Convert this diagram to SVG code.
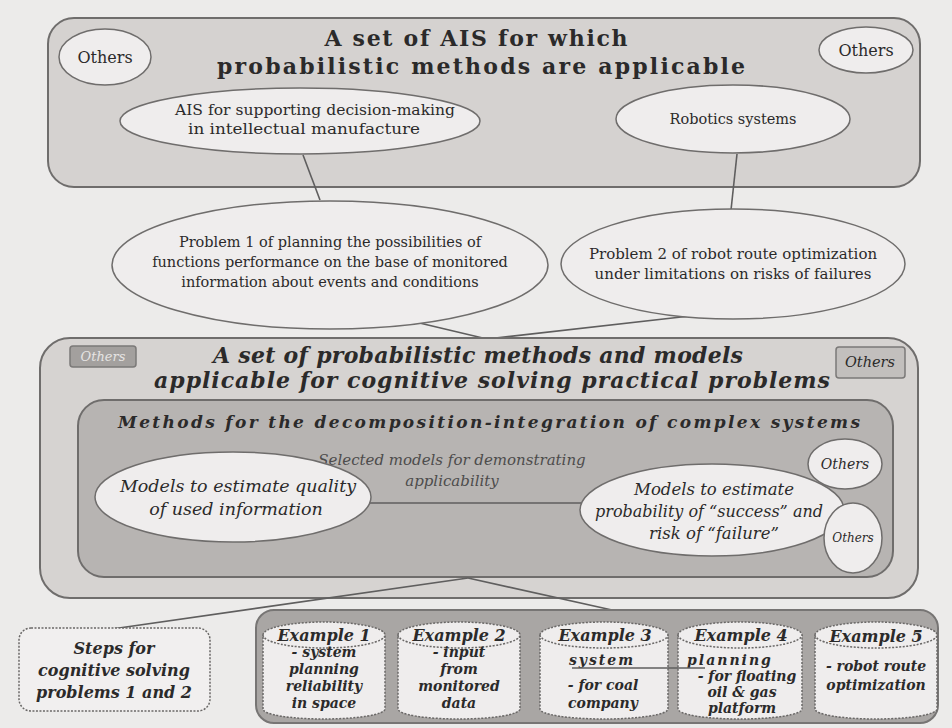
<svg xmlns="http://www.w3.org/2000/svg" width="952" height="728" viewBox="0 0 952 728">
<style>
.t{font-family:"DejaVu Serif","Liberation Serif",serif;fill:#2b2a2a}
.b{font-weight:bold}
.i{font-style:italic}
.c{text-anchor:middle}
.ell{fill:#efeded;stroke:#6f6d6c;stroke-width:1.5}
.box{stroke:#6f6d6c;stroke-width:2}
.con{stroke:#5f5e5e;stroke-width:1.6;fill:none}
.cyl{fill:#efeded;stroke:#6a6867;stroke-width:1.5;stroke-dasharray:2 1.5}
.ex{font-size:16px;font-weight:bold;font-style:italic}
.eb{font-size:14px;font-weight:bold;font-style:italic}
</style>
<rect x="0" y="0" width="952" height="728" fill="#ecebea"/>
<g id="top-set">
<rect class="box" x="48" y="18" width="872" height="169" rx="26" fill="#d5d2d0"/>
<text class="t b c" x="476" y="46" font-size="22" textLength="303" lengthAdjust="spacing">A set of AIS for which</text>
<text class="t b c" x="481" y="74" font-size="22" textLength="528" lengthAdjust="spacing">probabilistic methods are applicable</text>
</g>
<g id="others-tl"><ellipse class="ell" cx="105" cy="57" rx="46" ry="28"/><text class="t c" x="105" y="63" font-size="16">Others</text></g>
<g id="others-tr"><ellipse class="ell" cx="866" cy="50" rx="47" ry="23"/><text class="t c" x="866" y="56" font-size="16">Others</text></g>
<g id="ais-manufacture"><ellipse class="ell" cx="300" cy="121" rx="180" ry="33"/><text class="t c" x="315" y="115" font-size="15" textLength="280" lengthAdjust="spacingAndGlyphs">AIS for supporting decision-making</text><text class="t c" x="304" y="134" font-size="15" textLength="232" lengthAdjust="spacingAndGlyphs">in  intellectual manufacture</text></g>
<g id="robotics"><ellipse class="ell" cx="733" cy="119" rx="117" ry="34"/><text class="t c" x="733" y="124" font-size="14.5">Robotics systems</text></g>
<g id="connectors">
<line class="con" x1="303" y1="155" x2="320" y2="200"/>
<line class="con" x1="737" y1="154" x2="731" y2="210"/>
<line class="con" x1="390" y1="316" x2="487" y2="339"/>
<line class="con" x1="690" y1="316" x2="487" y2="339"/>
</g>
<g id="problem1"><ellipse class="ell" cx="330" cy="265" rx="218" ry="64"/><text class="t c" x="330" y="247" font-size="14.5">Problem 1 of planning  the possibilities of</text><text class="t c" x="330" y="267" font-size="14.5">functions  performance on the base of monitored</text><text class="t c" x="330" y="287" font-size="14.5">information about events and conditions</text></g>
<g id="problem2"><ellipse class="ell" cx="733" cy="264" rx="172" ry="55"/><text class="t c" x="733" y="259" font-size="15">Problem 2 of robot route optimization</text><text class="t c" x="733" y="279" font-size="15">under  limitations on risks of failures</text></g>
<g id="methods-set">
<rect class="box" x="40" y="338" width="878" height="260" rx="30" fill="#d6d3d1"/>
<text class="t b i c" x="478" y="363" font-size="22" textLength="530" lengthAdjust="spacing">A set of probabilistic methods and models</text>
<text class="t b i c" x="492" y="388" font-size="22" textLength="676" lengthAdjust="spacing">applicable for cognitive solving practical problems</text>
</g>
<g id="others-rect-l"><rect x="70" y="346" width="66" height="21" rx="3" fill="#a3a09e" stroke="#7b7978" stroke-width="1.5"/><text class="t i c" x="103" y="361" font-size="13" style="fill:#e6e4e3">Others</text></g>
<g id="others-rect-r"><rect x="836" y="347" width="69" height="31" rx="3" fill="#c2bfbd" stroke="#7b7978" stroke-width="1.5"/><text class="t i c" x="870" y="367" font-size="14.5">Others</text></g>
<g id="decomposition">
<rect class="box" x="78" y="400" width="815" height="177" rx="26" fill="#b7b4b2"/>
<text class="t b i c" x="489" y="428" font-size="17" textLength="742" lengthAdjust="spacing">Methods for the decomposition-integration of complex systems</text>
<text class="t i c" x="452" y="465" font-size="15" style="fill:#4d4c4c">Selected models for demonstrating</text>
<text class="t i c" x="452" y="486" font-size="15" style="fill:#4d4c4c">applicability</text>
<line class="con" x1="368" y1="503" x2="582" y2="503"/>
</g>
<g id="model-quality"><ellipse class="ell" cx="233" cy="497" rx="138" ry="45"/><text class="t i c" x="238" y="492" font-size="17.5">Models to estimate quality</text><text class="t i c" x="236" y="515" font-size="17.5">of used information</text></g>
<g id="model-success"><ellipse class="ell" cx="712" cy="510" rx="132" ry="46"/><text class="t i c" x="714" y="495" font-size="16.5">Models to estimate</text><text class="t i c" x="709" y="517" font-size="16">probability of “success” and</text><text class="t i c" x="714" y="539" font-size="16.5">risk of “failure”</text></g>
<g id="others-e1"><ellipse class="ell" cx="845" cy="464" rx="37" ry="25"/><text class="t i c" x="845" y="469" font-size="14">Others</text></g>
<g id="others-e2"><ellipse class="ell" cx="853" cy="538" rx="29" ry="35"/><text class="t i c" x="853" y="542" font-size="12">Others</text></g>
<g id="connectors-lower">
<line class="con" x1="468" y1="578" x2="112" y2="629"/>
<line class="con" x1="468" y1="578" x2="612" y2="610"/>
</g>
<g id="steps"><rect x="19" y="628" width="191" height="83" rx="12" fill="#f1efef" stroke="#6a6867" stroke-width="1.5" stroke-dasharray="2 1.5"/><text class="t b i c" x="114" y="654" font-size="16">Steps for</text><text class="t b i c" x="114" y="676" font-size="16">cognitive solving</text><text class="t b i c" x="114" y="698" font-size="16">problems 1 and 2</text></g>
<g id="examples">
<rect x="256" y="610" width="682" height="113" rx="18" fill="#a9a6a4" stroke="#777574" stroke-width="2"/>
</g>
<g id="example1"><path class="cyl" d="M263,635 A61,13 0 0 1 385,635 L385,709 A61,10 0 0 1 263,709 Z"/><path class="cyl" d="M263,635 A61,13 0 0 0 385,635" fill="none"/><text class="t ex c" x="324" y="641">Example 1</text><text class="t eb c" x="324" y="657">- system</text><text class="t eb c" x="324" y="674">planning</text><text class="t eb c" x="324" y="691">reliability</text><text class="t eb c" x="324" y="708">in space</text></g>
<g id="example2"><path class="cyl" d="M398,635 A61,13 0 0 1 520,635 L520,709 A61,10 0 0 1 398,709 Z"/><path class="cyl" d="M398,635 A61,13 0 0 0 520,635" fill="none"/><text class="t ex c" x="459" y="641">Example 2</text><text class="t eb c" x="459" y="657">- input</text><text class="t eb c" x="459" y="674">from</text><text class="t eb c" x="459" y="691">monitored</text><text class="t eb c" x="459" y="708">data</text></g>
<g id="example3"><path class="cyl" d="M540,635 A64,13 0 0 1 668,635 L668,709 A64,10 0 0 1 540,709 Z"/><path class="cyl" d="M540,635 A64,13 0 0 0 668,635" fill="none"/><text class="t ex c" x="605" y="641">Example 3</text><text class="t eb c" x="602" y="665" letter-spacing="2">system</text><text class="t eb c" x="603" y="690">- for coal</text><text class="t eb c" x="603" y="708">company</text></g>
<g id="example4"><path class="cyl" d="M678,635 A62,13 0 0 1 802,635 L802,709 A62,10 0 0 1 678,709 Z"/><path class="cyl" d="M678,635 A62,13 0 0 0 802,635" fill="none"/><text class="t ex c" x="741" y="641">Example 4</text><text class="t eb c" x="730" y="665" letter-spacing="2">planning</text><text class="t eb c" x="747" y="681">- for floating</text><text class="t eb c" x="742" y="697">oil &amp; gas</text><text class="t eb c" x="742" y="713">platform</text></g>
<g id="example5"><path class="cyl" d="M815,635 A61,13 0 0 1 937,635 L937,709 A61,10 0 0 1 815,709 Z"/><path class="cyl" d="M815,635 A61,13 0 0 0 937,635" fill="none"/><text class="t ex c" x="876" y="642">Example 5</text><text class="t eb c" x="876" y="671">- robot route</text><text class="t eb c" x="876" y="690">optimization</text></g>
<g id="connector-ex34"><line class="con" x1="572" y1="668" x2="705" y2="668"/></g>
</svg>
